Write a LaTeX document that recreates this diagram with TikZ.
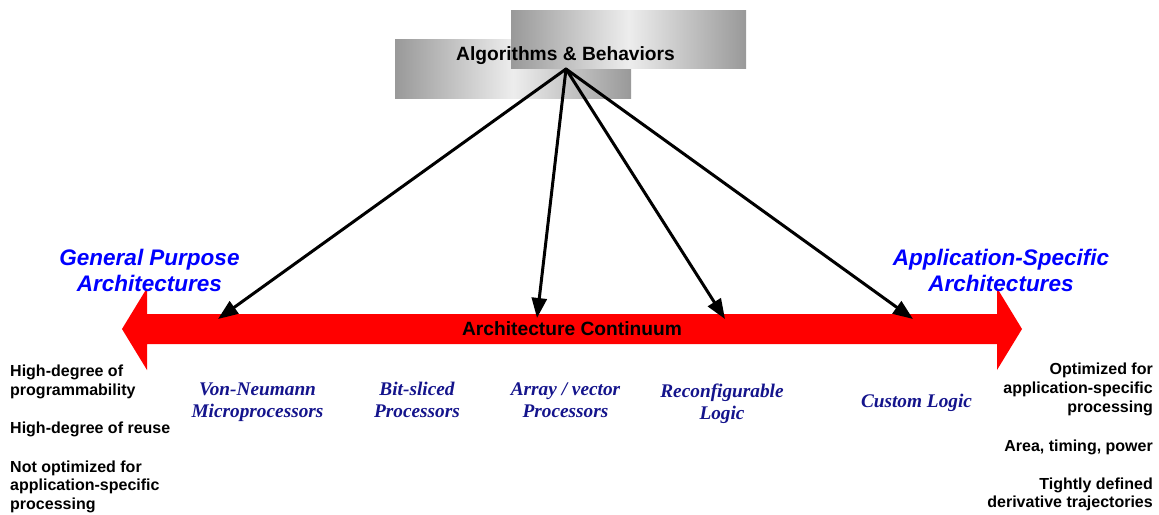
\documentclass[tikz,border=0pt]{standalone}
\usepackage{fontspec}
\setmainfont{Liberation Serif}
\newfontfamily\arial{Liberation Sans}
\usetikzlibrary{arrows.meta}
\definecolor{hdblue}{RGB}{0,0,255}
\definecolor{archnavy}{RGB}{20,20,140}
\begin{document}
\begin{tikzpicture}[x=1pt,y=-1pt,
  gbox/.style={left color=black!40,right color=black!40,middle color=black!7,draw=none},
  feed/.style={line width=3pt,line cap=round,-{Triangle[length=20pt,width=15pt]}},
  head/.style={font=\arial\bfseries\itshape\fontsize{22.5}{22.5}\selectfont,text=hdblue,anchor=base,inner sep=0},
  arch/.style={font=\bfseries\itshape\fontsize{19.3}{19.3}\selectfont,text=archnavy,anchor=base,inner sep=0},
  note/.style={font=\arial\bfseries\fontsize{16}{16}\selectfont,inner sep=0},
  lnote/.style={note,anchor=base west},
  rnote/.style={note,anchor=base east},
]
\useasboundingbox (0,0) rectangle (1159,514);

% two overlapping shaded panels behind the title
\shade[gbox] (395,39) rectangle (631,98);
\shade[gbox] (511,10) rectangle (746,68);
\node[font=\arial\bfseries\fontsize{19.2}{19.2}\selectfont,anchor=base,inner sep=0] (alg) at (565.5,60) {Algorithms \& Behaviors};

% red double-headed continuum arrow
\fill[red] (122,329) -- (147,288) -- (147,314) -- (997,314) -- (997,288) -- (1022,329)
  -- (997,370) -- (997,344) -- (147,344) -- (147,370) -- cycle;
\node[font=\arial\bfseries\fontsize{19.2}{19.2}\selectfont,anchor=base,inner sep=0] (cont) at (572,335) {Architecture Continuum};

% mapping arrows from the algorithm box onto the continuum
\coordinate (hub) at (566,69);
\coordinate (pvn) at (218,319);
\coordinate (parr) at (537,318);
\coordinate (prec) at (725,319);
\coordinate (pcus) at (913,319);
\draw[feed] (hub) -- (pvn);
\draw[feed] (hub) -- (parr);
\draw[feed] (hub) -- (prec);
\draw[feed] (hub) -- (pcus);

% end-point headings
\node[head] (gp1) at (149.5,265) {General Purpose};
\node[head] (gp2) at (149.5,291) {Architectures};
\node[head] (as1) at (1001,265) {Application-Specific};
\node[head] (as2) at (1001,291) {Architectures};

% architecture classes along the continuum
\node[arch] (vn1) at (257.5,395) {Von-Neumann};
\node[arch] (vn2) at (257.5,417) {Microprocessors};
\node[arch] (bs1) at (417,395) {Bit-sliced};
\node[arch] (bs2) at (417,417) {Processors};
\node[arch] (av1) at (565.5,395) {Array / vector};
\node[arch] (av2) at (565.5,417) {Processors};
\node[arch] (rl1) at (722,397) {Reconfigurable};
\node[arch] (rl2) at (722,419) {Logic};
\node[arch] (cl1) at (916.5,407) {Custom Logic};

% properties of general-purpose architectures
\node[lnote] (l1) at (10,376.5) {High-degree of};
\node[lnote] (l2) at (10,395) {programmability};
\node[lnote] (l3) at (10,433) {High-degree of reuse};
\node[lnote] (l4) at (10,472) {Not optimized for};
\node[lnote] (l5) at (10,490.5) {application-specific};
\node[lnote] (l6) at (10,509) {processing};

% properties of application-specific architectures
\node[rnote] (r1) at (1153,374) {Optimized for};
\node[rnote] (r2) at (1153,393) {application-specific};
\node[rnote] (r3) at (1153,412) {processing};
\node[rnote] (r4) at (1153,451) {Area, timing, power};
\node[rnote] (r5) at (1153,489) {Tightly defined};
\node[rnote] (r6) at (1153,507.5) {derivative trajectories};
\end{tikzpicture}
\end{document}
